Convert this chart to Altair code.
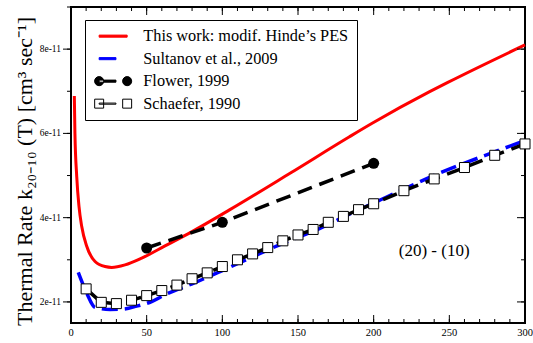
import altair as alt
import pandas as pd

E = 1e-11
SERIF = "Liberation Serif"

names = ["This work: modif. Hinde\u2019s PES", "Sultanov et al., 2009", "Flower, 1999", "Schaefer, 1990"]

# values in units of 1e-11 cm^3 s^-1
red_T = [2.2, 2.6, 3.8, 5.3, 7.1, 10.4, 15.9, 22.5, 26.9, 35.7, 46.7, 62.1, 80, 105, 145, 184, 199, 237, 249, 300]
red_k = [6.89, 6.00, 4.97, 4.26, 3.79, 3.32, 2.96, 2.84, 2.82, 2.88, 3.04, 3.33, 3.67, 4.19, 5.06, 5.92, 6.24, 6.99, 7.21, 8.10]

blue_T = [4.8, 10.4, 15.9, 25.8, 34.6, 43.4, 53.3, 62.1, 80, 98.5, 120, 140, 162.4, 185, 208.6, 243.8, 283.5, 300]
blue_k = [2.70, 2.21, 1.87, 1.82, 1.83, 1.90, 2.01, 2.17, 2.43, 2.72, 3.07, 3.39, 3.71, 4.10, 4.49, 5.06, 5.61, 5.83]

flower_T = [50, 100, 200]
flower_k = [3.28, 3.89, 5.29]

schaefer_T = [10, 20, 30, 40, 50, 60, 70, 80, 90, 100, 110, 120, 130, 140, 150, 160, 170, 180, 190, 200,
              220, 240, 260, 280, 300]
schaefer_k = [2.31, 1.99, 1.96, 2.04, 2.15, 2.27, 2.40, 2.55, 2.69, 2.84, 3.00, 3.14, 3.29, 3.45, 3.59, 3.72,
              3.89, 4.03, 4.19, 4.33, 4.64, 4.92, 5.19, 5.48, 5.75]

x_major = [0, 50, 100, 150, 200, 250, 300]
x_labels = ["0", "50", "100", "150", "200", "250", "300"]
x_minor = list(range(0, 301, 10))
y_major = [2 * E, 4 * E, 6 * E, 8 * E]
y_labels = ["2e-11", "4e-11", "6e-11", "8e-11"]
y_minor = [v * E for v in [2, 3, 4, 5, 6, 7, 8, 9]]

TITLE = "Thermal Rate k\u2082\u2080\u208b\u2081\u2080 (T) [cm\u00b3 sec\u207b\u00b9]"

note_text = ["(20) - (10)"]
note_T = [240]
note_k = [3.22]

W, H = 454, 316
MAJ, MIN = 8, 4


def frame(T, k, series):
    return pd.DataFrame({"T": T, "k": [v * E for v in k], "series": series})


df_red = frame(red_T, red_k, names[0])
df_blue = frame(blue_T, blue_k, names[1])
df_flower = frame(flower_T, flower_k, names[2])
df_schaefer = frame(schaefer_T, schaefer_k, names[3])
df_note = pd.DataFrame({"T": note_T, "k": [v * E for v in note_k], "text": note_text})

xs = alt.Scale(domain=[0, 300], nice=False, zero=False)
ys = alt.Scale(domain=[1.5 * E, 9 * E], nice=False, zero=False)

X = lambda: alt.X("T:Q", scale=xs, axis=None)
Y = lambda: alt.Y("k:Q", scale=ys, axis=None)

red = alt.Chart(df_red).mark_line(color="#ff0000", strokeWidth=3, interpolate="monotone").encode(x=X(), y=Y())
blue = alt.Chart(df_blue).mark_line(color="#0000ff", strokeWidth=3.5, strokeDash=[16, 7],
                                    interpolate="monotone").encode(x=X(), y=Y())
flower_line = alt.Chart(df_flower).mark_line(color="black", strokeWidth=3.5, strokeDash=[15, 8]).encode(
    x=X(), y=Y())
flower_pts = alt.Chart(df_flower).mark_point(shape="circle", filled=True, color="black", size=121,
                                             opacity=1).encode(x=X(), y=Y())
sch_line = alt.Chart(df_schaefer).mark_line(color="black", strokeWidth=3.5, strokeDash=[15, 8]).encode(
    x=X(), y=Y())
sch_pts = alt.Chart(df_schaefer).mark_point(shape="square", filled=True, fill="white", stroke="black",
                                            strokeWidth=1, size=100, opacity=1).encode(x=X(), y=Y())
note = alt.Chart(df_note).mark_text(font=SERIF, fontSize=17, color="black").encode(
    x=X(), y=Y(), text="text:N")

# tick marks on all four sides, positioned through the scales
df_xmaj = pd.DataFrame({"T": x_major, "label": x_labels})
df_xmin = pd.DataFrame({"T": x_minor})
df_ymaj = pd.DataFrame({"k": y_major, "label": y_labels})
df_ymin = pd.DataFrame({"k": y_minor})
rule = dict(color="black", strokeWidth=1)
ticks = [
    alt.Chart(df_xmaj).mark_rule(**rule).encode(x=X(), y=alt.value(H), y2=alt.value(H - MAJ)),
    alt.Chart(df_xmin).mark_rule(**rule).encode(x=X(), y=alt.value(H), y2=alt.value(H - MIN)),
    alt.Chart(df_xmaj).mark_rule(**rule).encode(x=X(), y=alt.value(0), y2=alt.value(MAJ)),
    alt.Chart(df_xmin).mark_rule(**rule).encode(x=X(), y=alt.value(0), y2=alt.value(MIN)),
    alt.Chart(df_ymaj).mark_rule(**rule).encode(y=Y(), x=alt.value(0), x2=alt.value(-MAJ)),
    alt.Chart(df_ymin).mark_rule(**rule).encode(y=Y(), x=alt.value(0), x2=alt.value(-MIN)),
    alt.Chart(df_ymaj).mark_rule(**rule).encode(y=Y(), x=alt.value(W), x2=alt.value(W - MAJ)),
    alt.Chart(df_ymin).mark_rule(**rule).encode(y=Y(), x=alt.value(W), x2=alt.value(W - MIN)),
]

# tick labels and axis title as text marks
x_tick_text = alt.Chart(df_xmaj).mark_text(font=SERIF, fontSize=10.5, color="black", baseline="top",
                                           align="center").encode(x=X(), y=alt.value(H + 5), text="label:N")
y_tick_text = alt.Chart(df_ymaj).mark_text(font=SERIF, fontSize=9.5, color="black", baseline="middle",
                                           align="right").encode(y=Y(), x=alt.value(-10), text="label:N")
y_title = alt.Chart(pd.DataFrame({"t": [TITLE]})).mark_text(
    font=SERIF, fontSize=22, color="black", angle=270, align="center", baseline="alphabetic"
).encode(x=alt.value(-39), y=alt.value(164.5), text="t:N")

# legend symbols (custom paths: line segment with end markers)
p_red = "M-2,-0.15L2,-0.15L2,0.15L-2,0.15Z"
p_blue = "M-2,-0.15L0.4,-0.15L0.4,0.15L-2,0.15Z"
p_flower = ("M-2,-0.15L0.4,-0.15L0.4,0.15L-2,0.15Z"
            "M-2.65,0A0.65,0.65 0 1,0 -1.35,0A0.65,0.65 0 1,0 -2.65,0Z"
            "M1.35,0A0.65,0.65 0 1,0 2.65,0A0.65,0.65 0 1,0 1.35,0Z")
p_sch = ("M-2.64,-0.64L-1.36,-0.64L-1.36,0.64L-2.64,0.64Z"
         "M1.36,-0.64L2.64,-0.64L2.64,0.64L1.36,0.64Z"
         "M-2,-0.08L0.4,-0.08L0.4,0.08L-2,0.08Z")
paths = [p_red, p_blue, p_flower, p_sch]
fills = ["#ff0000", "#0000ff", "black", "white"]
strokes = ["#ff0000", "#0000ff", "black", "black"]

leg = alt.Legend(orient="none", legendX=14, legendY=13, title=None, fillColor="white", strokeColor="black",
                 padding=8, rowPadding=5.5, labelFont=SERIF, labelFontSize=16.3, labelColor="black",
                 labelLimit=400, symbolSize=196, symbolStrokeWidth=1, symbolOffset=12, labelOffset=22)

legend_layer = alt.Chart(pd.DataFrame({"series": names})).mark_point(
    filled=True, opacity=1, strokeWidth=1).encode(
    shape=alt.Shape("series:N", scale=alt.Scale(domain=names, range=paths), legend=leg),
    fill=alt.Fill("series:N", scale=alt.Scale(domain=names, range=fills), legend=leg),
    stroke=alt.Stroke("series:N", scale=alt.Scale(domain=names, range=strokes), legend=leg),
).transform_filter("false")

chart = alt.layer(red, blue, flower_line, flower_pts, sch_line, sch_pts, note, *ticks,
                  x_tick_text, y_tick_text, y_title, legend_layer).properties(
    width=W, height=H,
    autosize=alt.AutoSizeParams(type="none"),
    padding={"left": 71, "top": 7, "right": 8, "bottom": 20},
    background="white",
).configure_view(stroke="black", strokeWidth=2).configure_legend(strokeWidth=1)

chart.save("out.html", embed_options={"renderer": "svg", "actions": False})
